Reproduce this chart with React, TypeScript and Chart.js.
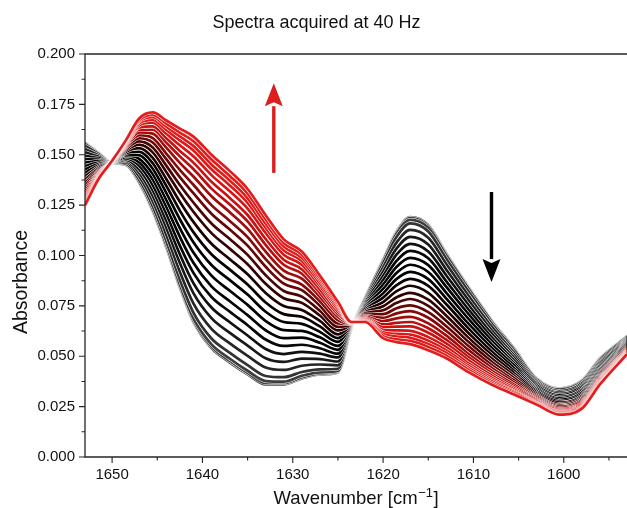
import React, { useEffect, useRef } from "react";
import { Chart, registerables } from "chart.js";

Chart.register(...registerables);

// ---------- data ----------
const WAVENUMBERS = [1653, 1651.5, 1650, 1648.5, 1647, 1645.5, 1644, 1642.5, 1641, 1639, 1637, 1635, 1633, 1631, 1629, 1627, 1625, 1623.5, 1622, 1620, 1618.5, 1617, 1615, 1613, 1610.5, 1608, 1605.5, 1603, 1600.5, 1598, 1596, 1593];

const SPECTRUM_00 = [0.156, 0.151, 0.146, 0.145, 0.136, 0.122, 0.104, 0.084, 0.067, 0.054, 0.047, 0.041, 0.036, 0.036, 0.039, 0.041, 0.042, 0.064, 0.079, 0.098, 0.112, 0.119, 0.115, 0.101, 0.084, 0.068, 0.054, 0.039, 0.034, 0.038, 0.049, 0.060];
const SPECTRUM_01 = [0.1558, 0.1509, 0.1460, 0.1451, 0.1363, 0.1224, 0.1045, 0.0846, 0.0677, 0.0548, 0.0478, 0.0417, 0.0367, 0.0366, 0.0395, 0.0414, 0.0423, 0.0640, 0.0789, 0.0977, 0.1116, 0.1185, 0.1145, 0.1006, 0.0837, 0.0677, 0.0538, 0.0389, 0.0339, 0.0379, 0.0489, 0.0599];
const SPECTRUM_02 = [0.1554, 0.1507, 0.1460, 0.1452, 0.1366, 0.1230, 0.1053, 0.0856, 0.0688, 0.0559, 0.0489, 0.0428, 0.0377, 0.0374, 0.0403, 0.0420, 0.0427, 0.0641, 0.0788, 0.0972, 0.1109, 0.1177, 0.1138, 0.1000, 0.0832, 0.0674, 0.0535, 0.0387, 0.0337, 0.0377, 0.0487, 0.0598];
const SPECTRUM_03 = [0.1545, 0.1504, 0.1461, 0.1456, 0.1376, 0.1245, 0.1072, 0.0880, 0.0716, 0.0588, 0.0518, 0.0456, 0.0402, 0.0396, 0.0422, 0.0435, 0.0438, 0.0642, 0.0784, 0.0961, 0.1093, 0.1159, 0.1119, 0.0984, 0.0819, 0.0664, 0.0529, 0.0384, 0.0334, 0.0373, 0.0484, 0.0596];
const SPECTRUM_04 = [0.1529, 0.1497, 0.1461, 0.1462, 0.1392, 0.1269, 0.1103, 0.0919, 0.0762, 0.0636, 0.0565, 0.0502, 0.0444, 0.0432, 0.0453, 0.0459, 0.0455, 0.0643, 0.0778, 0.0941, 0.1065, 0.1127, 0.1088, 0.0958, 0.0798, 0.0648, 0.0517, 0.0377, 0.0327, 0.0366, 0.0477, 0.0591];
const SPECTRUM_05 = [0.1512, 0.1490, 0.1462, 0.1469, 0.1410, 0.1296, 0.1138, 0.0963, 0.0813, 0.0689, 0.0617, 0.0553, 0.0490, 0.0472, 0.0488, 0.0486, 0.0474, 0.0645, 0.0771, 0.0920, 0.1035, 0.1092, 0.1054, 0.0929, 0.0775, 0.0630, 0.0504, 0.0370, 0.0320, 0.0358, 0.0470, 0.0586];
const SPECTRUM_06 = [0.1495, 0.1483, 0.1462, 0.1475, 0.1427, 0.1323, 0.1172, 0.1006, 0.0863, 0.0742, 0.0670, 0.0603, 0.0536, 0.0511, 0.0522, 0.0513, 0.0494, 0.0646, 0.0765, 0.0898, 0.1005, 0.1058, 0.1020, 0.0901, 0.0752, 0.0613, 0.0492, 0.0363, 0.0313, 0.0351, 0.0463, 0.0581];
const SPECTRUM_07 = [0.1478, 0.1476, 0.1463, 0.1482, 0.1445, 0.1350, 0.1207, 0.1049, 0.0914, 0.0794, 0.0722, 0.0654, 0.0583, 0.0551, 0.0557, 0.0540, 0.0513, 0.0648, 0.0758, 0.0877, 0.0974, 0.1023, 0.0986, 0.0872, 0.0729, 0.0595, 0.0479, 0.0356, 0.0306, 0.0343, 0.0456, 0.0576];
const SPECTRUM_08 = [0.1461, 0.1468, 0.1463, 0.1488, 0.1462, 0.1377, 0.1242, 0.1093, 0.0964, 0.0847, 0.0774, 0.0704, 0.0629, 0.0590, 0.0592, 0.0567, 0.0532, 0.0650, 0.0752, 0.0855, 0.0944, 0.0988, 0.0952, 0.0844, 0.0706, 0.0578, 0.0466, 0.0348, 0.0298, 0.0335, 0.0448, 0.0571];
const SPECTRUM_09 = [0.1444, 0.1461, 0.1464, 0.1495, 0.1480, 0.1404, 0.1276, 0.1136, 0.1015, 0.0900, 0.0826, 0.0755, 0.0675, 0.0630, 0.0626, 0.0594, 0.0551, 0.0651, 0.0745, 0.0834, 0.0914, 0.0954, 0.0918, 0.0815, 0.0683, 0.0560, 0.0454, 0.0341, 0.0291, 0.0328, 0.0441, 0.0566];
const SPECTRUM_10 = [0.1427, 0.1454, 0.1464, 0.1502, 0.1498, 0.1431, 0.1311, 0.1180, 0.1066, 0.0953, 0.0879, 0.0806, 0.0721, 0.0670, 0.0661, 0.0621, 0.0571, 0.0653, 0.0738, 0.0812, 0.0884, 0.0919, 0.0883, 0.0786, 0.0659, 0.0542, 0.0441, 0.0334, 0.0284, 0.0320, 0.0434, 0.0561];
const SPECTRUM_11 = [0.1410, 0.1447, 0.1465, 0.1508, 0.1515, 0.1458, 0.1346, 0.1223, 0.1116, 0.1006, 0.0931, 0.0856, 0.0767, 0.0709, 0.0696, 0.0648, 0.0590, 0.0655, 0.0732, 0.0791, 0.0853, 0.0884, 0.0849, 0.0758, 0.0636, 0.0525, 0.0428, 0.0327, 0.0277, 0.0312, 0.0427, 0.0556];
const SPECTRUM_12 = [0.1393, 0.1440, 0.1465, 0.1515, 0.1533, 0.1485, 0.1380, 0.1267, 0.1167, 0.1058, 0.0983, 0.0907, 0.0814, 0.0749, 0.0730, 0.0675, 0.0609, 0.0656, 0.0725, 0.0769, 0.0823, 0.0850, 0.0815, 0.0729, 0.0613, 0.0507, 0.0416, 0.0320, 0.0270, 0.0304, 0.0420, 0.0551];
const SPECTRUM_13 = [0.1376, 0.1433, 0.1466, 0.1521, 0.1550, 0.1512, 0.1415, 0.1310, 0.1217, 0.1111, 0.1035, 0.0957, 0.0860, 0.0788, 0.0765, 0.0702, 0.0628, 0.0658, 0.0719, 0.0748, 0.0793, 0.0815, 0.0781, 0.0701, 0.0590, 0.0490, 0.0403, 0.0313, 0.0263, 0.0297, 0.0413, 0.0546];
const SPECTRUM_14 = [0.1360, 0.1426, 0.1467, 0.1527, 0.1566, 0.1536, 0.1446, 0.1350, 0.1263, 0.1159, 0.1083, 0.1003, 0.0902, 0.0824, 0.0796, 0.0726, 0.0646, 0.0659, 0.0713, 0.0728, 0.0765, 0.0784, 0.0750, 0.0675, 0.0569, 0.0474, 0.0392, 0.0306, 0.0256, 0.0290, 0.0406, 0.0542];
const SPECTRUM_15 = [0.1345, 0.1420, 0.1467, 0.1533, 0.1582, 0.1561, 0.1478, 0.1389, 0.1309, 0.1207, 0.1130, 0.1049, 0.0944, 0.0860, 0.0828, 0.0751, 0.0663, 0.0661, 0.0707, 0.0709, 0.0738, 0.0752, 0.0719, 0.0649, 0.0548, 0.0458, 0.0380, 0.0300, 0.0250, 0.0283, 0.0400, 0.0537];
const SPECTRUM_16 = [0.1331, 0.1414, 0.1467, 0.1539, 0.1597, 0.1583, 0.1506, 0.1425, 0.1351, 0.1250, 0.1173, 0.1091, 0.0982, 0.0893, 0.0856, 0.0773, 0.0679, 0.0662, 0.0701, 0.0691, 0.0713, 0.0724, 0.0691, 0.0625, 0.0529, 0.0443, 0.0370, 0.0294, 0.0244, 0.0276, 0.0394, 0.0533];
const SPECTRUM_17 = [0.1317, 0.1408, 0.1468, 0.1544, 0.1611, 0.1605, 0.1535, 0.1460, 0.1392, 0.1294, 0.1216, 0.1132, 0.1019, 0.0925, 0.0885, 0.0795, 0.0695, 0.0664, 0.0696, 0.0674, 0.0688, 0.0695, 0.0663, 0.0602, 0.0510, 0.0429, 0.0359, 0.0288, 0.0238, 0.0270, 0.0388, 0.0529];
const SPECTRUM_18 = [0.1304, 0.1403, 0.1468, 0.1549, 0.1624, 0.1624, 0.1560, 0.1492, 0.1429, 0.1332, 0.1254, 0.1169, 0.1053, 0.0954, 0.0910, 0.0814, 0.0709, 0.0665, 0.0691, 0.0658, 0.0666, 0.0670, 0.0639, 0.0581, 0.0494, 0.0416, 0.0350, 0.0283, 0.0233, 0.0265, 0.0383, 0.0526];
const SPECTRUM_19 = [0.1293, 0.1398, 0.1469, 0.1553, 0.1635, 0.1641, 0.1582, 0.1519, 0.1461, 0.1366, 0.1287, 0.1201, 0.1082, 0.0979, 0.0932, 0.0831, 0.0721, 0.0666, 0.0687, 0.0645, 0.0647, 0.0648, 0.0617, 0.0563, 0.0479, 0.0405, 0.0342, 0.0278, 0.0228, 0.0260, 0.0378, 0.0523];
const SPECTRUM_20 = [0.1283, 0.1394, 0.1469, 0.1557, 0.1646, 0.1659, 0.1604, 0.1547, 0.1493, 0.1399, 0.1320, 0.1233, 0.1112, 0.1004, 0.0954, 0.0849, 0.0733, 0.0667, 0.0683, 0.0631, 0.0628, 0.0626, 0.0595, 0.0545, 0.0464, 0.0394, 0.0334, 0.0274, 0.0224, 0.0255, 0.0374, 0.0519];
const SPECTRUM_21 = [0.1273, 0.1390, 0.1469, 0.1561, 0.1656, 0.1673, 0.1623, 0.1571, 0.1521, 0.1428, 0.1349, 0.1261, 0.1137, 0.1026, 0.0973, 0.0863, 0.0744, 0.0668, 0.0679, 0.0619, 0.0611, 0.0607, 0.0577, 0.0529, 0.0452, 0.0384, 0.0327, 0.0270, 0.0220, 0.0251, 0.0370, 0.0517];
const SPECTRUM_22 = [0.1266, 0.1387, 0.1470, 0.1564, 0.1664, 0.1686, 0.1639, 0.1591, 0.1544, 0.1452, 0.1373, 0.1284, 0.1158, 0.1044, 0.0989, 0.0876, 0.0753, 0.0669, 0.0676, 0.0610, 0.0598, 0.0592, 0.0561, 0.0516, 0.0441, 0.0376, 0.0322, 0.0267, 0.0217, 0.0247, 0.0367, 0.0515];
const SPECTRUM_23 = [0.1258, 0.1383, 0.1470, 0.1567, 0.1672, 0.1698, 0.1654, 0.1610, 0.1567, 0.1476, 0.1396, 0.1307, 0.1179, 0.1062, 0.1004, 0.0888, 0.0761, 0.0669, 0.0673, 0.0600, 0.0584, 0.0576, 0.0546, 0.0503, 0.0431, 0.0368, 0.0316, 0.0263, 0.0213, 0.0244, 0.0363, 0.0512];
const SPECTRUM_24 = [0.125, 0.138, 0.147, 0.157, 0.168, 0.171, 0.167, 0.163, 0.159, 0.150, 0.142, 0.133, 0.120, 0.108, 0.102, 0.090, 0.077, 0.067, 0.067, 0.059, 0.057, 0.056, 0.053, 0.049, 0.042, 0.036, 0.031, 0.026, 0.021, 0.024, 0.036, 0.051];

const SPECTRA = [
  SPECTRUM_00, SPECTRUM_01, SPECTRUM_02, SPECTRUM_03, SPECTRUM_04, SPECTRUM_05, SPECTRUM_06,
  SPECTRUM_07, SPECTRUM_08, SPECTRUM_09, SPECTRUM_10, SPECTRUM_11, SPECTRUM_12, SPECTRUM_13,
  SPECTRUM_14, SPECTRUM_15, SPECTRUM_16, SPECTRUM_17, SPECTRUM_18, SPECTRUM_19, SPECTRUM_20,
  SPECTRUM_21, SPECTRUM_22, SPECTRUM_23, SPECTRUM_24,
];

const X_MAJOR_TICKS = [1650, 1640, 1630, 1620, 1610, 1600];
const X_MINOR_TICKS = [1645, 1635, 1625, 1615, 1605, 1595];
const Y_MAJOR_TICKS = [0, 0.025, 0.05, 0.075, 0.1, 0.125, 0.15, 0.175, 0.2];
const Y_MINOR_TICKS = [0.0125, 0.0375, 0.0625, 0.0875, 0.1125, 0.1375, 0.1625, 0.1875];

const TITLE = "Spectra acquired at 40 Hz";
const Y_LABEL = "Absorbance";
const X_LABEL_MAIN = "Wavenumber [cm";
const X_LABEL_SUP = "\u22121";
const X_LABEL_END = "]";

// arrows: wavenumber and absorbance of tail / tip
const ARROW_UP = { wn: 1632.1, from: 0.141, to: 0.1855 };
const ARROW_DOWN = { wn: 1608.0, from: 0.1315, to: 0.0868 };

// ---------- style ----------
const LINE_COLORS = [
  "#484848", "#444444", "#3e3e3e", "#333333", "#262626", "#1a1a1a", "#101010",
  "#080808", "#030303", "#000000", "#000000", "#0a0000", "#1a0101", "#300202",
  "#4a0404", "#660606", "#840909", "#a00c0c", "#b81010", "#c91313", "#d51616",
  "#dc1818", "#e01a1a", "#e21b1b", "#e31c1c",
];
const FONT = "'Liberation Sans', Arial, Helvetica, sans-serif";
const TEXT = "#111111";
const SPINE = "#262626";
const RED = "#dc1e1e";

function drawArrow(ctx: CanvasRenderingContext2D, x: number, y0: number, y1: number, color: string) {
  const dir = y1 < y0 ? -1 : 1;
  const headLen = 23;
  const headHalf = 9;
  const shaft = 3.4;
  const baseY = y1 - dir * headLen;
  ctx.save();
  ctx.fillStyle = color;
  ctx.fillRect(x - shaft / 2, Math.min(y0, baseY), shaft, Math.abs(baseY - y0));
  ctx.beginPath();
  ctx.moveTo(x, y1);
  ctx.lineTo(x - headHalf, baseY);
  ctx.lineTo(x, baseY + dir * 4);
  ctx.lineTo(x + headHalf, baseY);
  ctx.closePath();
  ctx.fill();
  ctx.restore();
}

const decorPlugin = {
  id: "decor",
  afterDatasetsDraw(chart: any) {
    const { ctx, scales } = chart;
    const xs = scales.x;
    const ys = scales.y;
    drawArrow(ctx, xs.getPixelForValue(ARROW_UP.wn), ys.getPixelForValue(ARROW_UP.from), ys.getPixelForValue(ARROW_UP.to), RED);
    drawArrow(ctx, xs.getPixelForValue(ARROW_DOWN.wn), ys.getPixelForValue(ARROW_DOWN.from), ys.getPixelForValue(ARROW_DOWN.to), "#000000");
  },
  afterDraw(chart: any) {
    const { ctx, chartArea, scales } = chart;
    const xs = scales.x;
    const ys = scales.y;
    const { left, right, top, bottom } = chartArea;
    ctx.save();
    // spines
    ctx.strokeStyle = SPINE;
    ctx.lineWidth = 1.3;
    ctx.beginPath();
    ctx.moveTo(right + 2, top);
    ctx.lineTo(left, top);
    ctx.lineTo(left, bottom);
    ctx.lineTo(right + 2, bottom);
    ctx.stroke();
    // ticks
    ctx.lineWidth = 1.1;
    ctx.beginPath();
    for (const v of Y_MAJOR_TICKS) {
      const y = ys.getPixelForValue(v);
      ctx.moveTo(left - 6, y);
      ctx.lineTo(left, y);
    }
    for (const v of Y_MINOR_TICKS) {
      const y = ys.getPixelForValue(v);
      ctx.moveTo(left - 3.5, y);
      ctx.lineTo(left, y);
    }
    for (const v of X_MAJOR_TICKS) {
      const x = xs.getPixelForValue(v);
      ctx.moveTo(x, bottom);
      ctx.lineTo(x, bottom + 6);
    }
    for (const v of X_MINOR_TICKS) {
      const x = xs.getPixelForValue(v);
      ctx.moveTo(x, bottom);
      ctx.lineTo(x, bottom + 3.5);
    }
    ctx.stroke();

    ctx.fillStyle = TEXT;
    // title
    ctx.font = `18px ${FONT}`;
    ctx.textAlign = "center";
    ctx.textBaseline = "alphabetic";
    ctx.fillText(TITLE, 316.5, 27.5);

    // x label with superscript
    const mainFont = `18.5px ${FONT}`;
    const supFont = `13px ${FONT}`;
    ctx.font = mainFont;
    const w1 = ctx.measureText(X_LABEL_MAIN).width;
    const w3 = ctx.measureText(X_LABEL_END).width;
    ctx.font = supFont;
    const w2 = ctx.measureText(X_LABEL_SUP).width;
    const total = w1 + w2 + w3 + 1;
    const cx = (left + right) / 2;
    const x0 = cx - total / 2;
    const base = 503.5;
    ctx.textAlign = "left";
    ctx.font = mainFont;
    ctx.fillText(X_LABEL_MAIN, x0, base);
    ctx.font = supFont;
    ctx.fillText(X_LABEL_SUP, x0 + w1 + 0.5, base - 7);
    ctx.font = mainFont;
    ctx.fillText(X_LABEL_END, x0 + w1 + w2 + 1, base);

    // y label
    ctx.save();
    ctx.translate(27, 282);
    ctx.rotate(-Math.PI / 2);
    ctx.textAlign = "center";
    ctx.font = `19.5px ${FONT}`;
    ctx.fillText(Y_LABEL, 0, 0);
    ctx.restore();

    ctx.restore();
  },
};

export default function App() {
  const ref = useRef<HTMLCanvasElement>(null);

  useEffect(() => {
    const canvas = ref.current;
    if (!canvas) return;
    const n = SPECTRA.length;
    const datasets: any[] = [];
    SPECTRA.forEach((spec, k) => {
      const pts = WAVENUMBERS.map((wn, i) => ({ x: wn, y: spec[i] }));
      datasets.push({
        label: `outline ${k}`,
        data: pts,
        borderColor: "#ffffff",
        borderWidth: 3.7,
        pointRadius: 0,
        fill: false,
        cubicInterpolationMode: "monotone",
        order: 2 * (n - k) + 1,
      });
      datasets.push({
        label: `spectrum ${k}`,
        data: pts,
        borderColor: LINE_COLORS[k],
        borderWidth: 2.7,
        pointRadius: 0,
        fill: false,
        cubicInterpolationMode: "monotone",
        order: 2 * (n - k),
      });
    });

    const chart = new Chart(canvas, {
      type: "line",
      data: { datasets },
      plugins: [decorPlugin],
      options: {
        responsive: false,
        animation: false,
        devicePixelRatio: 1,
        events: [],
        layout: { padding: { top: 54, left: 0, right: 0, bottom: 0 } },
        plugins: {
          legend: { display: false },
          tooltip: { enabled: false },
          title: { display: false },
        },
        scales: {
          x: {
            type: "linear",
            reverse: true,
            min: 1593,
            max: 1653,
            afterBuildTicks: (s: any) => {
              s.ticks = X_MAJOR_TICKS.map((v) => ({ value: v }));
            },
            afterFit: (s: any) => {
              s.height = 51;
            },
            grid: { display: false, drawTicks: false },
            border: { display: false },
            ticks: {
              autoSkip: false,
              maxRotation: 0,
              padding: 9,
              color: TEXT,
              font: { family: FONT, size: 15 },
              callback: (v: any) => String(v),
            },
          },
          y: {
            type: "linear",
            min: 0,
            max: 0.2,
            afterBuildTicks: (s: any) => {
              s.ticks = Y_MAJOR_TICKS.map((v) => ({ value: v }));
            },
            afterFit: (s: any) => {
              s.width = 85;
            },
            grid: { display: false, drawTicks: false },
            border: { display: false },
            ticks: {
              padding: 10,
              color: TEXT,
              font: { family: FONT, size: 15 },
              callback: (v: any) => Number(v).toFixed(3),
            },
          },
        },
      },
    } as any);
    return () => chart.destroy();
  }, []);

  return (
    <div style={{ position: "fixed", left: 0, top: 0, width: 627, height: 508, background: "#ffffff" }}>
      <canvas ref={ref} width={627} height={508} style={{ display: "block", width: "627px", height: "508px" }} />
    </div>
  );
}
